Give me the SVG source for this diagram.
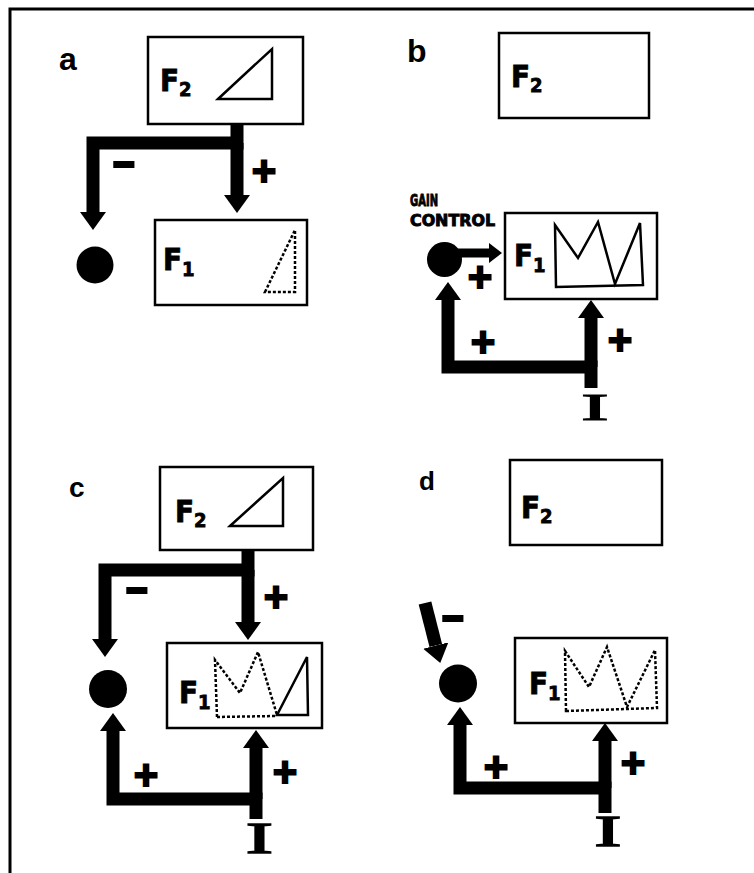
<svg xmlns="http://www.w3.org/2000/svg" width="754" height="873" viewBox="0 0 754 873">
<defs>
<style>
.box{fill:#fff;stroke:#000;stroke-width:2.5}
.wave{fill:none;stroke:#000;stroke-width:2.5;stroke-linejoin:miter}
.dot{fill:none;stroke:#000;stroke-width:2.5;stroke-dasharray:3 2}
.conn{fill:none;stroke:#000;stroke-width:13;stroke-linejoin:miter;stroke-linecap:butt}
.thin{fill:none;stroke:#000;stroke-width:9;stroke-linecap:butt}
.lbl{font-family:"DejaVu Sans Condensed","Liberation Sans",sans-serif;font-weight:bold;font-size:31px;fill:#000;stroke:#000;stroke-width:0.8}
.sub{font-size:20px}
.pan{font-family:"Liberation Sans","DejaVu Sans",sans-serif;font-weight:bold;fill:#000}
.sign{font-family:"Liberation Sans","DejaVu Sans",sans-serif;font-weight:bold;font-size:42px;fill:#000;stroke:#000;stroke-width:1.8;text-anchor:middle}
.inp{font-family:"Liberation Serif","DejaVu Serif",serif;font-weight:normal;font-size:42px;fill:#000;stroke:#000;stroke-width:1.3;text-anchor:middle}
.gain{font-family:"DejaVu Sans Condensed","Liberation Sans",sans-serif;font-weight:bold;font-size:15px;fill:#000;stroke:#000;stroke-width:0.8}
.node{fill:#000}
</style>
<marker id="ah" viewBox="0 0 18 26" markerWidth="18" markerHeight="26" refX="0" refY="13" orient="auto" markerUnits="userSpaceOnUse">
<path d="M0,0 L18,13 L0,26 Z" fill="#000"/>
</marker>
<marker id="ahs" viewBox="0 0 13 20" markerWidth="13" markerHeight="20" refX="0" refY="10" orient="auto" markerUnits="userSpaceOnUse">
<path d="M0,0 L13,10 L0,20 Z" fill="#000"/>
</marker>
</defs>
<rect width="754" height="873" fill="#fff"/>
<path d="M10,873 V9 H754" fill="none" stroke="#000" stroke-width="3"/>

<!-- panel labels -->
<text class="pan" x="59" y="70" font-size="32">a</text>
<text class="pan" x="407" y="62" font-size="32">b</text>
<text class="pan" x="69" y="497" font-size="28">c</text>
<text class="pan" x="419" y="490" font-size="26">d</text>

<!-- connectors -->
<g id="connectors">
<path class="conn" d="M237,124 V143 H93 V212" marker-end="url(#ah)"/>
<path class="conn" d="M237,143 V195" marker-end="url(#ah)"/>
<path class="thin" d="M445,253 H489" marker-end="url(#ahs)"/>
<path class="conn" d="M591,388 V367 H448 V300" marker-end="url(#ah)"/>
<path class="conn" d="M591,367 V318" marker-end="url(#ah)"/>
<path class="conn" d="M248,550 V570 H105 V639" marker-end="url(#ah)"/>
<path class="conn" d="M248,570 V622" marker-end="url(#ah)"/>
<path class="conn" d="M256,819 V799 H113 V731" marker-end="url(#ah)"/>
<path class="conn" d="M256,799 V748" marker-end="url(#ah)"/>
<path class="conn" d="M425,603 L435.8,645.5" marker-end="url(#ah)"/>
<path class="conn" d="M605,813 V788 H460 V725" marker-end="url(#ah)"/>
<path class="conn" d="M605,788 V741" marker-end="url(#ah)"/>
</g>

<!-- signs -->
<g id="signs">
<text class="sign" x="264" y="185">+</text>
<text class="sign" transform="translate(124,176) scale(1.7,1)" x="0" y="0">-</text>
<text class="sign" x="480" y="291">+</text>
<text class="sign" x="483" y="356">+</text>
<text class="sign" x="620" y="354">+</text>
<text class="sign" transform="translate(137,602) scale(1.7,1)" x="0" y="0">-</text>
<text class="sign" x="276" y="611">+</text>
<text class="sign" x="146" y="789">+</text>
<text class="sign" x="285" y="786">+</text>
<text class="sign" transform="translate(453,630) scale(1.7,1)" x="0" y="0">-</text>
<text class="sign" x="496" y="781">+</text>
<text class="sign" x="633" y="777">+</text>
</g>

<!-- panel a -->
<g id="a-F2">
<rect class="box" x="148" y="37" width="155" height="87"/>
<text class="lbl" x="160" y="91">F<tspan class="sub" dy="5">2</tspan></text>
<path class="wave" d="M218,99 L272,49 L272,99 Z"/>
</g>
<g id="a-F1">
<rect class="box" x="155" y="220" width="152" height="85"/>
<text class="lbl" x="163" y="270">F<tspan class="sub" dy="6">1</tspan></text>
<path class="dot" d="M265,292 L295,230 L295,292 Z"/>
</g>
<g id="a-gain"><circle class="node" cx="95" cy="265" r="18.5"/></g>

<!-- panel b -->
<g id="b-F2">
<rect class="box" x="499" y="33" width="150" height="85"/>
<text class="lbl" x="511" y="87">F<tspan class="sub" dy="5">2</tspan></text>
</g>
<g id="b-F1">
<rect class="box" x="505" y="213" width="152" height="86"/>
<text class="lbl" x="514" y="266">F<tspan class="sub" dy="6">1</tspan></text>
<path class="wave" d="M555,225 L578,258 L598,222 L615,284 L640,223 L643,285 L556,287 Z"/>
</g>
<g id="b-gain">
<circle class="node" cx="444.5" cy="259.5" r="17.5"/>
<text class="gain" x="410" y="206" textLength="28" lengthAdjust="spacingAndGlyphs">GAIN</text>
<text class="gain" x="410" y="226" textLength="85" lengthAdjust="spacingAndGlyphs">CONTROL</text>
</g>
<g id="b-input"><text class="inp" transform="translate(595,420) scale(1.95,0.9)">I</text></g>

<!-- panel c -->
<g id="c-F2">
<rect class="box" x="160" y="467" width="153" height="83"/>
<text class="lbl" x="175" y="522">F<tspan class="sub" dy="5">2</tspan></text>
<path class="wave" d="M230,526 L283,478 L283,526 Z"/>
</g>
<g id="c-F1">
<rect class="box" x="167" y="643" width="155" height="85"/>
<text class="lbl" x="179" y="703">F<tspan class="sub" dy="6">1</tspan></text>
<path class="dot" d="M217,717 L215,660 L240,693 L258,652 L277,715 M217,717 L277,716"/>
<path class="wave" d="M277,715 L307,657 L308,715 Z"/>
</g>
<g id="c-gain"><circle class="node" cx="108" cy="689" r="19"/></g>
<g id="c-input"><text class="inp" transform="translate(259.5,853) scale(1.95,1.05)">I</text></g>

<!-- panel d -->
<g id="d-F2">
<rect class="box" x="510" y="460" width="152" height="85"/>
<text class="lbl" x="521" y="518">F<tspan class="sub" dy="5">2</tspan></text>
</g>
<g id="d-F1">
<rect class="box" x="515" y="638" width="152" height="85"/>
<text class="lbl" x="529" y="694">F<tspan class="sub" dy="6">1</tspan></text>
<path class="dot" d="M566,711 L565,651 L589,687 L607,647 L627,707 L655,650 L657,708 Z"/>
</g>
<g id="d-gain"><circle class="node" cx="458" cy="683.5" r="19"/></g>
<g id="d-input"><text class="inp" transform="translate(608,846) scale(1.95,1.05)">I</text></g>
</svg>
